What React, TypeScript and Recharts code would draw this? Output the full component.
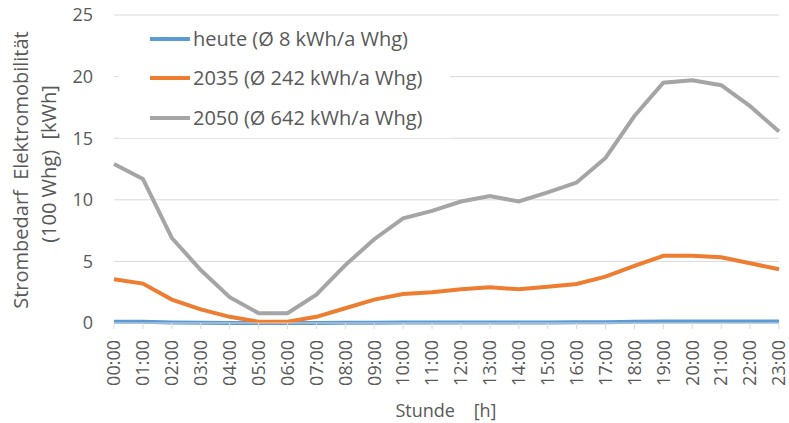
import React from "react";
import { LineChart, Line, XAxis, YAxis, CartesianGrid, Legend } from "recharts";

const hours = [
  "00:00", "01:00", "02:00", "03:00", "04:00", "05:00", "06:00", "07:00",
  "08:00", "09:00", "10:00", "11:00", "12:00", "13:00", "14:00", "15:00",
  "16:00", "17:00", "18:00", "19:00", "20:00", "21:00", "22:00", "23:00",
];
const heute = [0.1, 0.1, 0.05, 0.02, 0.01, 0, 0, 0, 0.02, 0.03, 0.05, 0.05, 0.05, 0.05, 0.05, 0.05, 0.06, 0.07, 0.1, 0.12, 0.12, 0.12, 0.12, 0.12];
const v2035 = [3.55, 3.2, 1.9, 1.1, 0.5, 0.1, 0.1, 0.5, 1.2, 1.9, 2.36, 2.5, 2.74, 2.9, 2.74, 2.95, 3.17, 3.76, 4.63, 5.45, 5.45, 5.34, 4.85, 4.36];
const v2050 = [12.9, 11.7, 6.9, 4.3, 2.1, 0.8, 0.8, 2.3, 4.7, 6.8, 8.5, 9.1, 9.86, 10.3, 9.86, 10.6, 11.4, 13.4, 16.8, 19.5, 19.7, 19.3, 17.6, 15.55];
const yTicks = [0, 5, 10, 15, 20, 25];

const seriesKeys = ["heute", "s2035", "s2050"];
const seriesNames = ["heute (Ø 8 kWh/a Whg)", "2035 (Ø 242 kWh/a Whg)", "2050 (Ø 642 kWh/a Whg)"];
const seriesColors = ["#5B9BD5", "#ED7D31", "#A5A5A5"];

const data = hours.map((h, i) => ({ hour: h, heute: heute[i], s2035: v2035[i], s2050: v2050[i] }));

const FONT = "'Open Sans', sans-serif";
const TEXT = "#595959";
const GRID = "#d9d9d9";

function XTick({ x, y, payload }: any) {
  return (
    <g transform={`translate(${x},${y})`}>
      <text
        transform="rotate(-90)"
        textAnchor="end"
        dy="0.35em"
        fill={TEXT}
        fontSize={18}
        fontFamily={FONT}
      >
        {payload.value}
      </text>
    </g>
  );
}

// keep series order as declared (recharts sorts payload by name otherwise)
function LegendBox() {
  return (
    <div style={{ background: "#fff", paddingLeft: 31 }}>
      {seriesNames.map((name, i) => (
        <div key={name} style={{ display: "flex", alignItems: "center", height: 39.5 }}>
          <svg width={40} height={6} style={{ marginRight: 3 }}>
            <line x1={0} y1={3} x2={40} y2={3} stroke={seriesColors[i]} strokeWidth={4} strokeLinecap="round" />
          </svg>
          <span style={{ fontFamily: FONT, fontSize: 20, color: TEXT, whiteSpace: "nowrap", lineHeight: "20px" }}>{name}</span>
        </div>
      ))}
    </div>
  );
}

export default function App() {
  return (
    <div style={{ position: "absolute", left: 0, top: 0, width: 789, height: 423, background: "#fff" }}>
      <LineChart width={789} height={423} data={data} margin={{ top: 15, right: 10, bottom: 0, left: 0 }}>
        <CartesianGrid vertical={false} stroke={GRID} strokeWidth={1} />
        <XAxis
          dataKey="hour"
          height={100}
          interval={0}
          stroke={GRID}
          tickSize={6}
          tickMargin={11}
          tick={<XTick />}
          label={{
            content: () => (
              <text x={446} y={410} textAnchor="middle" dominantBaseline="central" fill={TEXT} fontSize={18} fontFamily={FONT} style={{ whiteSpace: "pre" }}>
                {"Stunde    [h]"}
              </text>
            ),
          }}
        />
        <YAxis
          width={114}
          domain={[0, 25]}
          ticks={yTicks}
          axisLine={false}
          tickLine={false}
          tickSize={6}
          tickMargin={15}
          tick={{ fill: TEXT, fontSize: 18, fontFamily: FONT }}
          label={{
            content: () => (
              <g fill={TEXT} fontSize={20} fontFamily={FONT}>
                <text transform="translate(20,170) rotate(-90)" textAnchor="middle" dominantBaseline="central" style={{ whiteSpace: "pre" }}>
                  {"Strombedarf  Elektromobilität"}
                </text>
                <text transform="translate(48,164) rotate(-90)" textAnchor="middle" dominantBaseline="central" style={{ whiteSpace: "pre" }}>
                  {"(100 Whg)  [kWh]"}
                </text>
              </g>
            ),
          }}
        />
        <Legend
          layout="vertical"
          verticalAlign="middle"
          align="center"
          content={<LegendBox />}
          wrapperStyle={{ position: "absolute", left: 119, top: 19, width: 331, height: 119, background: "#fff" }}
        />
        {seriesKeys.map((k, i) => (
          <Line key={k} type="linear" dataKey={k} name={seriesNames[i]} stroke={seriesColors[i]} strokeWidth={4} dot={false} isAnimationActive={false} />
        ))}
      </LineChart>
    </div>
  );
}
